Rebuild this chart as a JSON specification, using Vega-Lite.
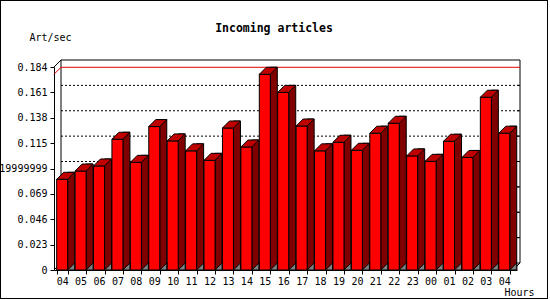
{
  "$schema": "https://vega.github.io/schema/vega-lite/v6.json",
  "width": 548,
  "height": 299,
  "autosize": {"type": "none"},
  "padding": 0,
  "background": "white",
  "title": {"text": "Incoming articles", "font": "DejaVu Sans Mono", "fontSize": 11.5, "fontWeight": "bold", "color": "black", "anchor": "middle", "frame": "group", "offset": -34},
  "config": {
    "view": {"stroke": "black", "strokeWidth": 2},
    "axis": {"labelFont": "DejaVu Sans Mono", "titleFont": "DejaVu Sans Mono", "labelColor": "black", "titleColor": "black", "tickColor": "black", "domainColor": "black", "labelFontSize": 10, "titleFontSize": 10, "titleFontWeight": "normal", "grid": false, "tickSize": 4}
  },
  "datasets": {
    "bars": [
      {"hour": "04", "value": 0.0822},
      {"hour": "05", "value": 0.0897},
      {"hour": "06", "value": 0.0943},
      {"hour": "07", "value": 0.1185},
      {"hour": "08", "value": 0.0976},
      {"hour": "09", "value": 0.130},
      {"hour": "10", "value": 0.117},
      {"hour": "11", "value": 0.108},
      {"hour": "12", "value": 0.0994},
      {"hour": "13", "value": 0.1287},
      {"hour": "14", "value": 0.1115},
      {"hour": "15", "value": 0.1774},
      {"hour": "16", "value": 0.161},
      {"hour": "17", "value": 0.1305},
      {"hour": "18", "value": 0.108},
      {"hour": "19", "value": 0.1158},
      {"hour": "20", "value": 0.1085},
      {"hour": "21", "value": 0.124},
      {"hour": "22", "value": 0.133},
      {"hour": "23", "value": 0.1034},
      {"hour": "00", "value": 0.0985},
      {"hour": "01", "value": 0.1167},
      {"hour": "02", "value": 0.102},
      {"hour": "03", "value": 0.1566},
      {"hour": "04 ", "value": 0.124}
    ],
    "ticks": [
      {"v": 0.023}, {"v": 0.046}, {"v": 0.069}, {"v": 0.092}, {"v": 0.115}, {"v": 0.138}, {"v": 0.161}
    ],
    "corners": [
      {"v": 0.184, "s": 0},
      {"v": 0, "s": 0},
      {"v": 0, "s": 1}
    ],
    "wall": [{"lo": 0, "hi": 0.184}]
  },
  "resolve": {"scale": {"x": "independent"}, "axis": {"x": "independent", "y": "independent"}},
  "layer": [
    {
      "layer": [
        {
          "data": {"name": "wall"},
          "mark": {"type": "rect", "fill": "white", "fillOpacity": 0, "stroke": "black", "strokeWidth": 1, "yOffset": -7, "y2Offset": -7},
          "encoding": {
            "x": {"datum": 0, "type": "quantitative", "scale": {"domain": [0, 1], "range": [61, 520]}, "axis": null},
            "x2": {"datum": 1},
            "y": {"field": "hi", "type": "quantitative", "scale": {"domain": [0, 0.184], "range": [270, 67], "nice": false}, "axis": null},
            "y2": {"field": "lo"}
          }
        },
        {
          "data": {"name": "ticks"},
          "mark": {"type": "rule", "stroke": "black", "strokeWidth": 1, "strokeDash": [2, 2], "yOffset": -7},
          "encoding": {
            "x": {"datum": 0, "type": "quantitative", "scale": {"domain": [0, 1], "range": [61, 520]}, "axis": null},
            "x2": {"datum": 1},
            "y": {"field": "v", "type": "quantitative", "scale": {"domain": [0, 0.184], "range": [270, 67], "nice": false}, "axis": null}
          }
        },
        {
          "data": {"name": "ticks"},
          "mark": {"type": "rule", "stroke": "black", "strokeWidth": 1, "xOffset": -3, "yOffset": -7, "y2Offset": -7},
          "encoding": {
            "x": {"datum": 1, "type": "quantitative", "scale": {"domain": [0, 1], "range": [61, 520]}, "axis": null},
            "x2": {"datum": 1},
            "y": {"field": "v", "type": "quantitative", "scale": {"domain": [0, 0.184], "range": [270, 67], "nice": false}, "axis": null},
            "y2": {"field": "v"}
          }
        },
        {
          "data": {"name": "corners"},
          "mark": {"type": "rule", "stroke": "black", "strokeWidth": 1, "xOffset": -7, "y2Offset": -7},
          "encoding": {
            "x": {"field": "s", "type": "quantitative", "scale": {"domain": [0, 1], "range": [61, 520]}, "axis": null},
            "x2": {"field": "s"},
            "y": {"field": "v", "type": "quantitative", "scale": {"domain": [0, 0.184], "range": [270, 67], "nice": false}, "axis": null},
            "y2": {"field": "v"}
          }
        },
        {
          "data": {"name": "bars"},
          "transform": [{"aggregate": [{"op": "max", "field": "value", "as": "m"}]}],
          "mark": {"type": "rule", "stroke": "#e00000", "strokeWidth": 1, "yOffset": -7},
          "encoding": {
            "x": {"datum": 0, "type": "quantitative", "scale": {"domain": [0, 1], "range": [61, 520]}, "axis": null},
            "x2": {"datum": 1},
            "y": {"field": "m", "type": "quantitative", "scale": {"domain": [0, 0.184], "range": [270, 67], "nice": false}, "axis": null}
          }
        },
        {
          "data": {"name": "bars"},
          "transform": [{"aggregate": [{"op": "max", "field": "value", "as": "m"}]}],
          "mark": {"type": "rule", "stroke": "#e00000", "strokeWidth": 1, "xOffset": -7, "y2Offset": -7},
          "encoding": {
            "x": {"datum": 0, "type": "quantitative", "scale": {"domain": [0, 1], "range": [61, 520]}, "axis": null},
            "x2": {"datum": 0},
            "y": {"field": "m", "type": "quantitative", "scale": {"domain": [0, 0.184], "range": [270, 67], "nice": false}, "axis": null},
            "y2": {"field": "m"}
          }
        }
      ]
    },
    {
      "data": {"name": "bars"},
      "encoding": {
        "x": {
          "field": "hour", "type": "ordinal", "sort": null,
          "scale": {"range": [54, 517], "paddingInner": 0.4028, "paddingOuter": 0.269, "align": 0.27},
          "axis": {"title": "Hours", "offset": -29, "labelAngle": 0, "labelExpr": "trim(datum.label)", "tickBand": "extent", "labelPadding": 2, "titleX": 519, "titleY": 22, "titleAlign": "center", "titleBaseline": "middle"}
        },
        "y": {
          "field": "value", "type": "quantitative",
          "scale": {"domain": [0, 0.184], "range": [270, 67], "nice": false},
          "axis": {"title": "Art/sec", "offset": -54, "values": [0, 0.023, 0.046, 0.069, 0.092, 0.115, 0.138, 0.161, 0.184], "labelExpr": "datum.value == 0.092 ? '0.0919999999' : toString(datum.value)", "labelPadding": 3, "titleAngle": 0, "titleX": -4, "titleY": 37, "titleAlign": "center", "titleBaseline": "middle"}
        }
      },
      "layer": [
        {
          "mark": {"type": "bar", "width": 7, "xOffset": 9, "yOffset": -7, "fill": "#800000", "stroke": "black", "strokeWidth": 1},
          "encoding": {"y2": {"datum": 0}}
        },
        {
          "mark": {"type": "bar", "fill": "#ff0000", "stroke": "black", "strokeWidth": 1},
          "encoding": {"y2": {"datum": 0}}
        },
        {
          "mark": {"type": "point", "shape": "M-1,0.3889L0.2222,0.3889L1,-0.3889L-0.2222,-0.3889Z", "size": 324, "filled": true, "fill": "#c00000", "stroke": "black", "strokeWidth": 1, "opacity": 1, "xOffset": 3.5, "yOffset": -3.5},
          "encoding": {}
        },
        {
          "mark": {"type": "point", "shape": "M-1,1L1,1L1,-1Z", "size": 49, "filled": true, "fill": "#808080", "stroke": "black", "strokeWidth": 1, "opacity": 1, "xOffset": 9, "yOffset": -3.5},
          "encoding": {"y": {"datum": 0, "type": "quantitative"}}
        }
      ]
    }
  ]
}
